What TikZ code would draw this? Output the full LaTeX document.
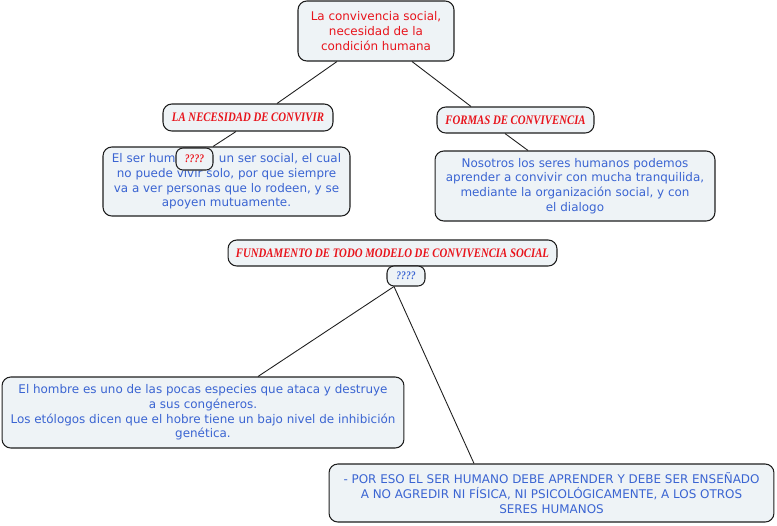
\documentclass[tikz,border=0pt]{standalone}
\usepackage{fontspec}
\setmainfont{DejaVu Sans}
\newfontfamily\headfont[FakeStretch=0.83]{Liberation Serif}
\usetikzlibrary{positioning}
\definecolor{cfill}{HTML}{EEF3F6}
\definecolor{cred}{HTML}{E8141C}
\definecolor{cblue}{HTML}{3A64D2}
\definecolor{cedge}{HTML}{1E1E1E}
\tikzset{
  box/.style={draw=cedge,fill=cfill,rounded corners=5pt,line width=0.6pt,align=center,font=\fontsize{6.8}{8.4}\selectfont,inner sep=2pt},
  txt/.style={box,text=cblue},
  head/.style={box,text=cred,font=\fontsize{7.4}{8}\selectfont\headfont\bfseries\itshape},
  qq/.style={box,font=\fontsize{6.6}{7}\selectfont\headfont\bfseries\itshape,rounded corners=4pt},
  conn/.style={line width=0.5pt,draw=cedge},
}
\begin{document}
\begin{tikzpicture}[x=0.02cm,y=-0.02cm]
  \useasboundingbox (0,0) rectangle (777,525);
  \node[box,text=cred,minimum width=3.12cm,minimum height=1.2cm] (root) at (376,31) {La convivencia social,\\necesidad de la\\condición humana};
  \node[head,minimum width=3.4cm,minimum height=0.54cm] (need) at (248,117.5) {LA NECESIDAD DE CONVIVIR};
  \node[head,minimum width=3.14cm,minimum height=0.52cm] (forms) at (515.5,120) {FORMAS DE CONVIVENCIA};
  \node[txt,minimum width=4.94cm,minimum height=1.38cm] (t1) at (226.5,181.5) {El ser hum\phantom{ano es} un ser social, el cual\\no puede vivir solo, por que siempre\\va a ver personas que lo rodeen, y se\\apoyen mutuamente.};
  \node[qq,text=cred,minimum width=0.74cm,minimum height=0.44cm] (q1) at (194.5,159) {????};
  \node[txt,minimum width=5.6cm,minimum height=1.4cm] (t2) at (575,186) {Nosotros los seres humanos podemos\\aprender a convivir con mucha tranquilida,\\mediante la organización social, y con\\el dialogo};
  \node[head,minimum width=6.58cm,minimum height=0.52cm] (base) at (392.5,253) {FUNDAMENTO DE TODO MODELO DE CONVIVENCIA SOCIAL};
  \node[qq,text=cblue,minimum width=0.76cm,minimum height=0.4cm] (q2) at (406,276) {????};
  \node[txt,minimum width=8.04cm,minimum height=1.42cm] (t3) at (203,412.5) {El hombre es uno de las pocas especies que ataca y destruye\\a sus congéneros.\\Los etólogos dicen que el hobre tiene un bajo nivel de inhibición\\genética.};
  \node[txt,minimum width=8.9cm,minimum height=1.16cm] (t4) at (551.5,493) {- POR ESO EL SER HUMANO DEBE APRENDER Y DEBE SER ENSEÑADO\\A NO AGREDIR NI FÍSICA, NI PSICOLÓGICAMENTE, A LOS OTROS\\SERES HUMANOS};
  \draw[conn] ([xshift=-0.78cm]root.south) -- ([xshift=0.58cm]need.north);
  \draw[conn] ([xshift=0.72cm]root.south) -- ([xshift=-0.89cm]forms.north);
  \draw[conn] ([xshift=-0.24cm]need.south) -- ([xshift=-0.27cm]t1.north);
  \draw[conn] ([xshift=-0.21cm]forms.south) -- ([xshift=-0.94cm]t2.north);
  \draw[conn] ([xshift=-0.24cm]q2.south) -- ([xshift=1.1cm]t3.north);
  \draw[conn] ([xshift=-0.24cm]q2.south) -- ([xshift=-1.55cm]t4.north);
\end{tikzpicture}
\end{document}
